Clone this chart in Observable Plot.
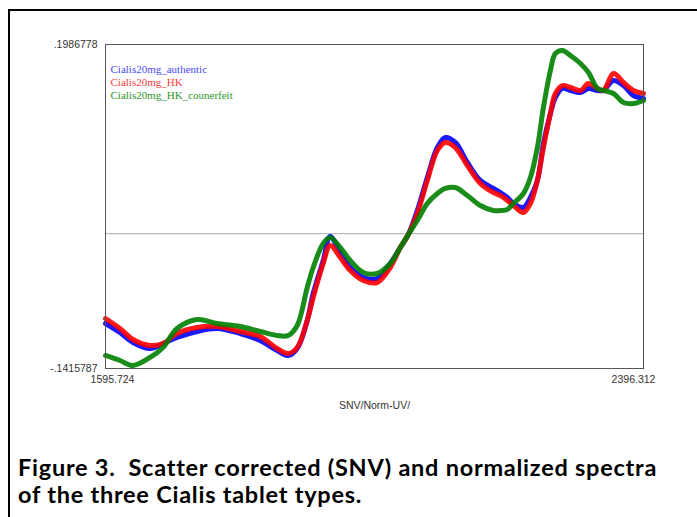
<!DOCTYPE html>
<html><head><meta charset="utf-8">
<script src="https://cdn.jsdelivr.net/npm/d3@7"></script>
<script src="https://cdn.jsdelivr.net/npm/@observablehq/plot@0.6"></script>
<style>
html,body{margin:0;padding:0;background:#fff;}
#page{position:relative;width:697px;height:517px;overflow:hidden;}
#frame{position:absolute;left:8px;top:9px;width:700px;height:520px;border-left:2px solid #000;border-top:2px solid #000;}
#chart{position:absolute;left:0;top:0;}
#caption{position:absolute;left:18px;top:454px;font-family:Lato,"Open Sans",sans-serif;font-weight:bold;font-size:23.5px;letter-spacing:0.75px;line-height:27px;color:#000;white-space:nowrap;}
</style></head><body>
<div id="page"><div id="frame"></div><div id="chart"></div>
<div id="caption">Figure 3.&nbsp; Scatter corrected (SNV) and normalized spectra<br>of the three Cialis tablet types.</div></div>
<script>
// Wavelength (x) samples
const wavelength = [1595.724,1617.3,1636.7,1662.0,1681.4,1702.2,1732.0,1761.8,1796.1,1825.8,1851.2,1867.6,1881.0,1895.9,1904.8,1919.7,1930.1,1945.0,1959.9,1979.3,2000.1,2019.5,2034.4,2046.3,2059.7,2074.6,2089.5,2101.4,2116.3,2134.2,2153.5,2172.9,2183.3,2193.7,2202.7,2217.6,2228.0,2238.4,2247.4,2257.8,2265.2,2275.7,2287.6,2302.5,2314.4,2327.8,2336.7,2351.6,2366.5,2381.4,2396.312];

const authentic = [-0.0943,-0.1038,-0.1143,-0.1206,-0.1153,-0.1090,-0.1027,-0.0996,-0.1048,-0.1122,-0.1227,-0.1279,-0.1206,-0.0912,-0.0628,-0.0282,-0.0030,-0.0198,-0.0355,-0.0460,-0.0471,-0.0313,-0.0145,-0.0009,0.0243,0.0590,0.0905,0.1010,0.0958,0.0748,0.0559,0.0475,0.0432,0.0380,0.0317,0.0275,0.0380,0.0559,0.0947,0.1262,0.1430,0.1525,0.1504,0.1483,0.1525,0.1504,0.1504,0.1609,0.1556,0.1451,0.1420];

const hk = [-0.0891,-0.0996,-0.1111,-0.1174,-0.1153,-0.1048,-0.0985,-0.0975,-0.1027,-0.1080,-0.1206,-0.1258,-0.1195,-0.0912,-0.0670,-0.0313,-0.0124,-0.0250,-0.0387,-0.0492,-0.0513,-0.0355,-0.0145,-0.0009,0.0212,0.0559,0.0874,0.0958,0.0905,0.0716,0.0527,0.0432,0.0401,0.0349,0.0296,0.0222,0.0317,0.0559,0.0905,0.1262,0.1472,0.1556,0.1535,0.1504,0.1577,0.1525,0.1504,0.1682,0.1588,0.1504,0.1472];

const counterfeit = [-0.1279,-0.1332,-0.1384,-0.1300,-0.1195,-0.0996,-0.0901,-0.0943,-0.0975,-0.1027,-0.1069,-0.1069,-0.0964,-0.0565,-0.0355,-0.0103,-0.0040,-0.0145,-0.0282,-0.0408,-0.0418,-0.0313,-0.0145,-0.0009,0.0138,0.0317,0.0422,0.0475,0.0485,0.0401,0.0296,0.0243,0.0243,0.0254,0.0317,0.0422,0.0590,0.0905,0.1325,0.1714,0.1892,0.1924,0.1871,0.1787,0.1693,0.1525,0.1504,0.1472,0.1378,0.1367,0.1399];

const seriesNames = ["Cialis20mg_authentic","Cialis20mg_HK","Cialis20mg_HK_counerfeit"];
const seriesColors = ["#0000ff","#ff0000","#008000"];
const legendColors = ["#4848ff","#ff3c3c","#2a962a"];

const xTicks = [1595.724, 2396.312];
const xTickLabels = ["1595.724","2396.312"];
const yTicks = [-0.1415787, 0.1986778];
const yTickLabels = ["-.1415787",".1986778"];
const xTitle = "SNV/Norm-UV/";

const seriesValues = [authentic, hk, counterfeit];
const tables = seriesValues.map((vals, k) => wavelength.map((w, i) => ({x: w, y: vals[i], group: seriesNames[k]})));

const lineMarks = tables.map((t, k) => Plot.line(t, {x: "x", y: "y", stroke: seriesColors[k], strokeWidth: 5, strokeOpacity: 0.9, curve: "catmull-rom"}));

const legendMarks = seriesNames.map((n, k) => Plot.text([n], {frameAnchor: "top-left", text: d => d, dx: 5, dy: 21 + 13 * k, textAnchor: "start", fill: legendColors[k], fontFamily: "Liberation Serif, Times New Roman, serif", fontSize: 11}));

const plot = Plot.plot({
  width: 697, height: 420,
  marginLeft: 105, marginRight: 54, marginTop: 44, marginBottom: 52,
  x: {domain: [xTicks[0], xTicks[1]], axis: null},
  y: {domain: [yTicks[0], yTicks[1]], axis: null},
  style: {background: "transparent", fontFamily: "Liberation Sans, Arial, sans-serif"},
  marks: [
    Plot.ruleY([0], {stroke: "#aaaaaa", strokeWidth: 1}),
    ...lineMarks,
    Plot.frame({stroke: "#555555"}),
    Plot.axisY(yTicks, {tickSize: 0, tickPadding: 8, tickFormat: d => yTickLabels[yTicks.indexOf(d)], fontSize: 10.5, fill: "#333", label: null}),
    Plot.text([xTicks[0]], {x: d => d, frameAnchor: "bottom", dy: 14, dx: 7, text: d => xTickLabels[0], fontSize: 10.5, fill: "#333"}),
    Plot.text([xTicks[1]], {x: d => d, frameAnchor: "bottom", dy: 14, dx: -10, text: d => xTickLabels[1], fontSize: 10.5, fill: "#333"}),
    Plot.text([xTitle], {frameAnchor: "bottom", dy: 40, text: d => d, fontSize: 10.5, fill: "#333"}),
    ...legendMarks
  ]
});
document.getElementById("chart").appendChild(plot);
</script>
</body></html>
